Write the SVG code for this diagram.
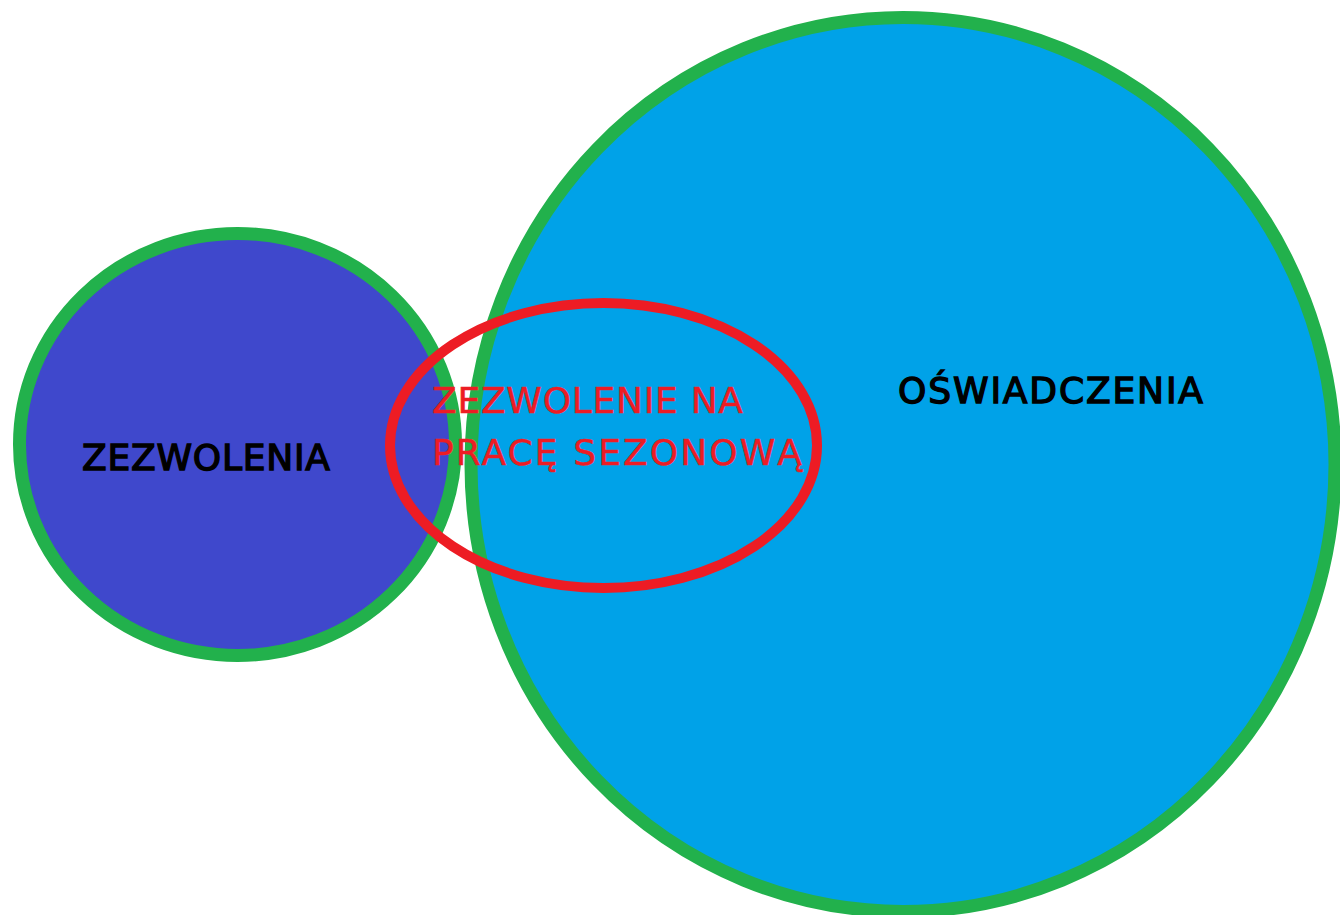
<svg xmlns="http://www.w3.org/2000/svg" width="1340" height="915" viewBox="0 0 1340 915">
<style>
.circ{stroke:#22B14C;stroke-width:13}
.lbl{font-family:"DejaVu Sans","Noto Sans",sans-serif;font-size:36px}
.blk{fill:#000;stroke:#000;stroke-width:1.4px}
.red{fill:#ED1C24;stroke:#ED1C24;stroke-width:0.5px}
</style>
<rect width="1340" height="915" fill="#fff"/>
<g id="oswiadczenia">
<ellipse class="circ" cx="903" cy="464.5" rx="432" ry="447" fill="#00A2E8"/>
<text class="lbl blk" x="898" y="403" textLength="305" lengthAdjust="spacing">OŚWIADCZENIA</text>
</g>
<g id="zezwolenia">
<ellipse class="circ" cx="237.5" cy="444.5" rx="218" ry="211" fill="#3F48CC"/>
<text class="lbl blk" x="82" y="470" textLength="248" lengthAdjust="spacing">ZEZWOLENIA</text>
</g>
<g id="sezonowa">
<ellipse cx="603.5" cy="445.5" rx="213.5" ry="142.5" fill="none" stroke="#ED1C24" stroke-width="10"/>
<text class="lbl red" x="432" y="413" textLength="311" lengthAdjust="spacing">ZEZWOLENIE NA</text>
<text class="lbl red" x="432" y="465" textLength="370" lengthAdjust="spacing">PRACĘ SEZONOWĄ</text>
</g>
<g id="connectors"/>
</svg>
